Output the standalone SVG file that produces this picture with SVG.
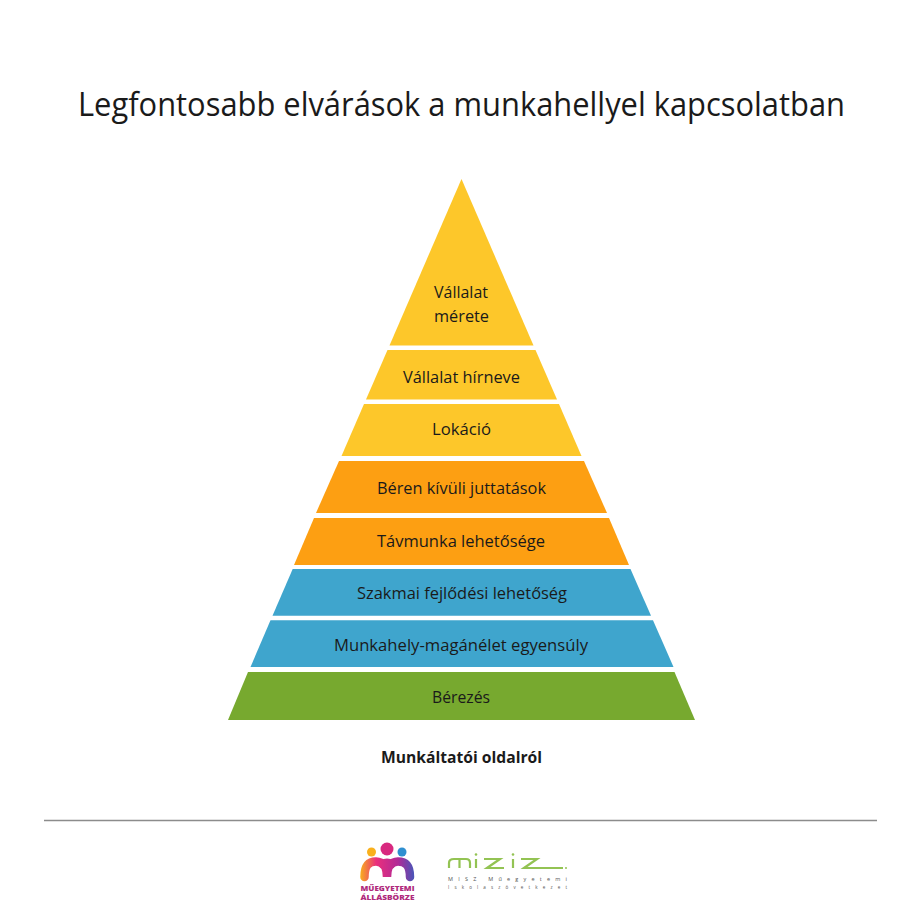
<svg xmlns="http://www.w3.org/2000/svg" width="920" height="920" viewBox="0 0 920 920">
<defs>
<linearGradient id="lg" gradientUnits="userSpaceOnUse" x1="360" y1="0" x2="414" y2="0"><stop offset="0" stop-color="#f9b01c"/><stop offset="0.3" stop-color="#ea2f7c"/><stop offset="0.7" stop-color="#b22a96"/><stop offset="1" stop-color="#4a55b8"/></linearGradient>
</defs>
<style>
text{font-family:"Open Sans","Noto Sans","Liberation Sans",sans-serif;fill:#1a1a1a;text-anchor:middle}
.l{font-size:16.200px}
.y{fill:#fdc72a}.o{fill:#fd9f12}.b{fill:#3fa5cd}.g{fill:#77a92f}
</style>
<rect width="920" height="920" fill="#fff"/>
<text id="title" x="461.500" y="116" font-size="33" textLength="767" lengthAdjust="spacingAndGlyphs">Legfontosabb elvárások a munkahellyel kapcsolatban</text>
<g id="n1"><polygon class="y" points="461.500,179 533.500,345.500 389.500,345.500"/><text class="l" x="461" y="298" textLength="54" lengthAdjust="spacingAndGlyphs">Vállalat</text><text class="l" x="461.500" y="322" textLength="55" lengthAdjust="spacingAndGlyphs">mérete</text></g>
<g id="n2"><polygon class="y" points="387.500,350 535.500,350 557,399.500 366,399.500"/><text class="l" x="461.500" y="383" textLength="117" lengthAdjust="spacingAndGlyphs">Vállalat hírneve</text></g>
<g id="n3"><polygon class="y" points="364,404 559,404 581.500,456 341.500,456"/><text class="l" x="461.500" y="435" textLength="59" lengthAdjust="spacingAndGlyphs">Lokáció</text></g>
<g id="n4"><polygon class="o" points="339,461 584,461 607,513 316,513"/><text class="l" x="461.500" y="494" textLength="169" lengthAdjust="spacingAndGlyphs">Béren kívüli juttatások</text></g>
<g id="n5"><polygon class="o" points="314,518 609,518 629,565 294,565"/><text class="l" x="461" y="547" textLength="168" lengthAdjust="spacingAndGlyphs">Távmunka lehetősége</text></g>
<g id="n6"><polygon class="b" points="292.700,569 630.500,569 651,615.700 272.500,615.700"/><text class="l" x="462" y="599" textLength="210" lengthAdjust="spacingAndGlyphs">Szakmai fejlődési lehetőség</text></g>
<g id="n7"><polygon class="b" points="270.500,620.300 653,620.300 673.500,667 250.500,667"/><text class="l" x="461" y="651" textLength="254" lengthAdjust="spacingAndGlyphs">Munkahely-magánélet egyensúly</text></g>
<g id="n8"><polygon class="g" points="248,672 674.500,672 695,720 228,720"/><text class="l" x="461" y="703" textLength="58" lengthAdjust="spacingAndGlyphs">Bérezés</text></g>
<text id="caption" x="461.500" y="763" font-size="15.500" font-weight="700" textLength="161" lengthAdjust="spacingAndGlyphs">Munkáltatói oldalról</text>
<line x1="44" y1="820.500" x2="877" y2="820.500" stroke="#8c8c8c" stroke-width="1.300"/>
<g id="logo1">
<circle cx="371.500" cy="852" r="4.500" fill="#f9b01c"/><circle cx="387" cy="849" r="6.500" fill="#d8287f"/><circle cx="402" cy="852" r="4.500" fill="#2f8fd0"/>
<path d="M364.500 877C364.500 866 368 861.500 376 861.500C383 861.500 387 868 387 877C387 868 391 861.500 398 861.500C406 861.500 410 866 410 877" fill="none" stroke="url(#lg)" stroke-width="8.500" stroke-linecap="round"/>
<ellipse cx="387" cy="864" rx="9" ry="5.500" fill="url(#lg)"/>
<text x="387.500" y="890.500" font-size="7.600" font-weight="800" textLength="54" lengthAdjust="spacingAndGlyphs" style="fill:#b02a7c">MŰEGYETEMI</text>
<text x="387.500" y="900" font-size="7.600" font-weight="800" textLength="54" lengthAdjust="spacingAndGlyphs" style="fill:#b02a7c">ÁLLÁSBÖRZE</text>
</g>
<g id="logo2" fill="none" stroke="#93c353" stroke-width="2.200">
<path d="M449 868V863Q449 859 454 859H466Q470 859 470 863V868M459.500 868V860"/>
<path d="M476 868V859"/>
<path d="M484 859H500L487 868H504"/>
<path d="M513 868V859"/>
<path d="M521 859H537L524 868H563"/>
<circle cx="476" cy="854.500" r="1.300" fill="#93c353" stroke="none"/><circle cx="513" cy="854.500" r="1.300" fill="#93c353" stroke="none"/><circle cx="566" cy="868" r="1" fill="#93c353" stroke="none"/>
<text x="507.500" y="881" font-size="5.500" textLength="119" lengthAdjust="spacing" stroke="none" style="fill:#555">MISZ Műegyetemi</text>
<text x="507.500" y="889" font-size="4.500" textLength="119" lengthAdjust="spacing" stroke="none" style="fill:#555">Iskolaszövetkezet</text>
</g>
</svg>
